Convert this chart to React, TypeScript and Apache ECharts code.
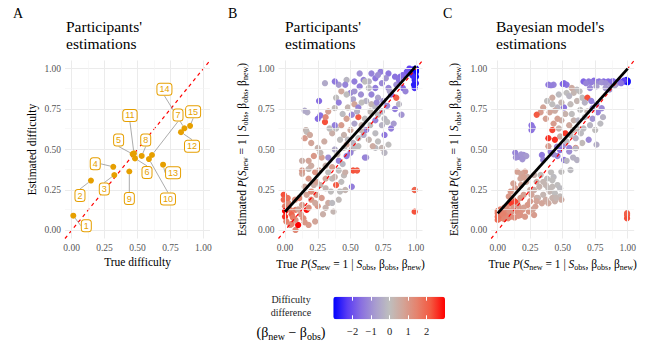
import React, { useEffect, useRef } from 'react';
import * as echarts from 'echarts';

// ---------- data ----------
const tickValues = [0, 0.25, 0.5, 0.75, 1];
const minorValues = [0.125, 0.375, 0.625, 0.875];
const legendTicks = [-2, -1, 0, 1, 2];
const identityLine = [[-0.05, -0.05], [1.05, 1.05]];

// Panel A
const itemLabels = ['1', '2', '3', '4', '5', '6', '7', '8', '9', '10', '11', '12', '13', '14', '15'];
const trueDifficulty = [0.013, 0.147, 0.324, 0.316, 0.463, 0.481, 0.61, 0.532, 0.438, 0.587, 0.473, 0.83, 0.694, 0.856, 0.899];
const estimatedDifficulty = [0.091, 0.308, 0.342, 0.393, 0.472, 0.445, 0.466, 0.46, 0.364, 0.441, 0.476, 0.607, 0.406, 0.631, 0.646];
const labelOffsets = [
  [13, 10], [-11, 15], [-10, 14], [-18, -3], [-14, -14], [12, 14], [26, -40], [4, -16],
  [0, 27], [19, 40], [-4, -38], [11, 14], [10, 8], [-20, -39], [3, -14],
];

// Panel B: [true P, estimated P, difficulty difference]
const participantPoints = [
  [1.0, 1.0, -3], [0.99, 0.99, -3], [0.98, 0.995, -2.9], [1.0, 0.98, -3], [0.995, 0.965, -2.8], [0.97, 0.99, -2.7],
  [1.0, 0.95, -2.9], [0.99, 0.93, -2.6], [1.0, 0.91, -2.5], [0.99, 0.88, -2.4], [0.96, 0.97, -2.4], [0.95, 1.0, -2.2],
  [0.985, 0.9, -2.7], [1.0, 0.99, -2.95], [0.975, 0.955, -2.5],
  [0.93, 0.98, -1.9], [0.9, 0.96, -1.7], [0.88, 0.95, -1.6], [0.84, 0.95, -1.5], [0.79, 0.97, -1.4], [0.73, 0.98, -1.3],
  [0.69, 0.94, -1.4], [0.64, 0.92, -0.3], [0.6, 0.93, -1.2], [0.57, 0.97, -1.0], [0.53, 0.92, -1.3], [0.47, 0.93, -0.2],
  [0.46, 0.9, -1.2], [0.41, 0.9, -0.8], [0.38, 0.92, -1.4], [0.305, 0.91, -0.5], [0.26, 0.8, -1.6], [0.43, 0.86, 0.6],
  [0.5, 0.85, -1.1], [0.53, 0.86, -0.9], [0.57, 0.89, -1.3], [0.61, 0.92, 0.0], [0.64, 0.88, -0.1], [0.66, 0.84, -1.2],
  [0.69, 0.88, -1.3], [0.74, 0.91, -1.1], [0.79, 0.88, -1.2], [0.81, 0.84, -1.4], [0.85, 0.9, -1.0], [0.9, 0.88, -1.6],
  [0.92, 0.86, -1.2], [0.87, 0.93, -1.5], [0.77, 0.94, -0.9], [0.71, 0.96, -1.0], [0.66, 0.97, -1.2],
  [0.39, 0.82, 0.0], [0.41, 0.79, -1.3], [0.38, 0.756, 0.1], [0.33, 0.735, 0.8], [0.305, 0.67, 2.3], [0.27, 0.71, -1.5],
  [0.25, 0.69, -1.6], [0.17, 0.73, -0.4], [0.16, 0.62, 0.3], [0.15, 0.74, -0.5], [0.165, 0.61, 0.1], [0.15, 0.57, 0.9],
  [0.19, 0.59, 0.6], [0.2, 0.54, 0.7], [0.47, 0.84, 0.0], [0.52, 0.81, -0.6], [0.53, 0.78, 0.7], [0.56, 0.76, -1.2],
  [0.56, 0.7, 2.2], [0.55, 0.735, -0.3], [0.51, 0.715, -1.1], [0.47, 0.69, 0.8], [0.43, 0.65, 0.9], [0.39, 0.63, 0.0],
  [0.38, 0.65, -1.3], [0.45, 0.59, 0.3], [0.42, 0.56, 0.0], [0.48, 0.56, -0.1], [0.47, 0.53, 0.7], [0.52, 0.54, -0.2],
  [0.56, 0.57, 0.0], [0.6, 0.59, -0.4], [0.62, 0.62, -1.2], [0.65, 0.65, 0.0], [0.69, 0.68, -1.2], [0.71, 0.715, -0.1],
  [0.74, 0.735, -0.3], [0.76, 0.69, -0.2], [0.78, 0.67, -0.1], [0.81, 0.63, -1.3], [0.83, 0.66, -0.8], [0.85, 0.82, 2.1],
  [0.87, 0.78, -0.2], [0.89, 0.715, -0.9], [0.62, 0.8, -0.3], [0.66, 0.78, 0.2], [0.71, 0.82, -0.6], [0.75, 0.8, -0.9],
  [0.69, 0.76, -0.2], [0.585, 0.79, 0.0], [0.65, 0.735, 0.1], [0.61, 0.69, 0.0], [0.585, 0.65, 0.3], [0.64, 0.56, 0.2],
  [0.69, 0.6, -0.1], [0.71, 0.55, 0.0], [0.74, 0.65, -0.3], [0.76, 0.59, -1.4], [0.79, 0.53, 0.0], [0.56, 0.52, 0.0],
  [0.51, 0.5, -0.2], [0.69, 0.51, -0.1], [0.74, 0.51, 0.2], [0.5, 0.62, 0.6], [0.48, 0.76, 0.2], [0.44, 0.72, -0.1],
  [0.58, 0.84, -1.0], [0.7, 0.79, -1.1], [0.78, 0.77, -1.1], [0.84, 0.75, -1.3], [0.8, 0.86, -0.6], [0.36, 0.6, 0.4],
  [0.31, 0.7, 1.3], [0.34, 0.63, 0.0], [0.62, 0.45, -0.8], [0.58, 0.62, 0.2], [0.53, 0.66, -0.6],
  [-0.01, 0.22, 2.3], [-0.01, 0.19, 2.0], [0.0, 0.15, 1.6], [0.0, 0.12, 3.0], [0.0, 0.085, 2.6], [0.01, 0.055, 1.5],
  [0.04, 0.034, 1.0], [0.08, 0.003, 1.3], [0.1, 0.034, 3.0], [0.08, 0.065, 1.1], [0.14, 0.075, 1.2], [0.165, 0.127, 2.9],
  [0.18, 0.14, 1.2], [0.13, 0.157, 0.8], [0.076, 0.19, 1.1], [0.11, 0.2, 1.4], [0.165, 0.22, 0.7], [0.2, 0.19, 1.0],
  [0.24, 0.22, 0.9], [0.2, 0.24, 1.2], [0.15, 0.27, 0.6], [0.22, 0.28, 0.4], [0.24, 0.3, 0.8], [0.18, 0.32, 1.0],
  [0.13, 0.35, 0.6], [0.13, 0.37, 0.9], [0.18, 0.38, 0.2], [0.23, 0.36, 1.1], [0.2, 0.4, 0.5], [0.18, 0.43, 0.7],
  [0.13, 0.43, 0.4], [0.22, 0.46, 1.0], [0.25, 0.51, 0.3], [0.28, 0.45, 0.8], [0.31, 0.4, 0.3], [0.33, 0.36, 0.0],
  [0.31, 0.32, 0.6], [0.36, 0.32, 0.1], [0.31, 0.26, 0.2], [0.28, 0.2, 0.9], [0.33, 0.17, 0.5], [0.31, 0.14, 0.3],
  [0.25, 0.15, 1.0], [0.29, 0.1, 0.4], [0.36, 0.17, -0.1], [0.41, 0.19, 0.1], [0.42, 0.24, 0.0], [0.46, 0.25, 0.2],
  [0.39, 0.28, 2.2], [0.43, 0.3, 0.0], [0.38, 0.33, 0.3], [0.45, 0.34, 0.1], [0.41, 0.37, 0.0], [0.46, 0.36, 0.4],
  [0.52, 0.37, 2.3], [0.55, 0.37, 2.2], [0.51, 0.27, -1.3], [0.61, 0.45, -1.2], [0.33, 0.45, -1.0], [0.41, 0.43, -1.2],
  [0.45, 0.51, 0.0], [0.47, 0.46, -1.3], [0.5, 0.48, -1.2], [0.53, 0.51, -0.1], [0.67, 0.52, 0.5], [0.76, 0.48, -0.2],
  [0.99, 0.25, 2.0], [0.99, 0.116, 2.3], [0.08, 0.127, 1.6], [0.04, 0.127, 1.4], [0.025, 0.17, 1.2], [0.23, 0.055, 0.7],
  [0.18, 0.034, 0.9], [0.37, 0.116, 0.2], [0.05, 0.1, 2.0], [0.06, 0.08, 1.6], [0.12, 0.1, 1.0], [0.1, 0.13, 0.7],
  [0.02, 0.2, 1.8], [0.27, 0.28, 0.3], [0.35, 0.24, 0.0], [0.44, 0.41, -0.2], [0.38, 0.5, -0.5], [0.3, 0.55, 0.5],
  [0.27, 0.48, 0.2], [0.4, 0.47, 0.3], [0.36, 0.39, 0.8], [0.26, 0.37, 0.7], [0.23, 0.17, 0.6], [0.15, 0.05, 1.0],
  [0.05, 0.04, 1.4],
];
const participantFit = [[0, 0.115], [1, 1.015]];

// Panel C: [true P, model-estimated P, difficulty difference]
const modelPoints = [
  [1.0, 0.925, -3], [0.99, 0.93, -2.8], [0.98, 0.92, -2.6], [1.0, 0.915, -2.9], [0.97, 0.925, -2.2],
  [0.93, 0.92, -1.9], [0.89, 0.92, -1.8], [0.85, 0.92, -1.6], [0.815, 0.92, -1.7], [0.78, 0.92, -1.5], [0.74, 0.925, -1.6],
  [0.7, 0.92, -1.4], [0.66, 0.92, -1.7], [0.68, 0.91, -1.2], [0.72, 0.915, -1.3], [0.76, 0.91, -1.1], [0.8, 0.915, -0.9],
  [0.83, 0.91, -1.0], [0.87, 0.9, -0.8], [0.91, 0.905, -1.2], [0.95, 0.91, -1.5], [0.71, 0.88, -1.1], [0.76, 0.89, -0.7],
  [0.83, 0.88, -0.8], [0.9, 0.895, -0.6], [0.51, 0.91, -1.6], [0.53, 0.9, -1.5], [0.5, 0.905, -1.7], [0.39, 0.9, -1.4],
  [0.43, 0.9, -1.2], [0.41, 0.895, -1.3],
  [0.61, 0.87, -0.1], [0.57, 0.88, 0.5], [0.585, 0.85, 0.2], [0.53, 0.85, 0.0], [0.47, 0.84, -0.1], [0.42, 0.82, 0.5],
  [0.38, 0.8, 0.0], [0.35, 0.76, 0.7], [0.33, 0.73, 0.9], [0.3, 0.715, 2.2], [0.42, 0.78, 0.0], [0.46, 0.76, -0.2],
  [0.51, 0.76, -1.4], [0.56, 0.78, 0.1], [0.61, 0.8, 0.2], [0.65, 0.82, 0.0], [0.69, 0.82, 2.3], [0.67, 0.79, -0.3],
  [0.635, 0.745, 0.0], [0.69, 0.735, 0.2], [0.73, 0.755, -1.0], [0.76, 0.78, -1.2], [0.8, 0.755, -1.1], [0.81, 0.7, -0.3],
  [0.79, 0.66, -0.1], [0.75, 0.62, 0.0], [0.71, 0.65, -0.2], [0.66, 0.63, -0.1], [0.61, 0.63, 0.0], [0.585, 0.68, 0.3],
  [0.55, 0.65, 0.6], [0.49, 0.68, 0.4], [0.46, 0.69, 0.8], [0.43, 0.66, 0.9], [0.47, 0.63, 0.3], [0.42, 0.62, 2.4],
  [0.52, 0.6, 2.5], [0.48, 0.58, 0.5], [0.56, 0.59, 0.0], [0.44, 0.56, 2.6], [0.53, 0.55, -0.1], [0.6, 0.57, -0.3],
  [0.65, 0.54, 0.1], [0.7, 0.56, -1.1], [0.39, 0.52, 0.9], [0.5, 0.52, -1.0], [0.55, 0.51, -1.2], [0.6, 0.51, 1.8],
  [0.26, 0.65, -1.5], [0.26, 0.62, -1.5], [0.27, 0.635, -1.4], [0.39, 0.57, 2.6], [0.57, 0.72, 0.0], [0.52, 0.72, 0.3],
  [0.44, 0.74, 0.5], [0.62, 0.68, -0.2], [0.67, 0.7, -0.1], [0.73, 0.69, -0.9], [0.77, 0.73, -1.3], [0.64, 0.6, -0.1],
  [0.58, 0.62, 0.2], [0.37, 0.69, 0.8], [0.4, 0.73, 0.7], [0.49, 0.79, 0.2], [0.55, 0.83, -0.2], [0.63, 0.86, 0.0],
  [0.72, 0.8, -1.3], [0.86, 0.87, -0.9], [0.88, 0.92, -1.6],
  [0.135, 0.48, -1.2], [0.16, 0.455, -1.1], [0.2, 0.466, -1.0], [0.18, 0.47, -0.9], [0.22, 0.46, -0.8], [0.34, 0.466, -1.4],
  [0.35, 0.435, -1.2], [0.405, 0.487, -1.3], [0.456, 0.517, -1.1], [0.48, 0.497, -1.5], [0.51, 0.435, -1.4], [0.55, 0.487, -1.0],
  [0.6, 0.507, -0.2], [0.61, 0.435, -0.3], [0.56, 0.373, -0.1], [0.49, 0.363, 0.0], [0.76, 0.53, -0.4],
  [0.15, 0.363, 0.8], [0.21, 0.363, 0.9], [0.23, 0.33, 0.4], [0.175, 0.32, 0.7], [0.28, 0.343, 0.3], [0.33, 0.343, 0.1],
  [0.38, 0.32, 0.0], [0.43, 0.33, -0.1], [0.46, 0.28, 0.0], [0.42, 0.27, 0.1], [0.37, 0.28, 0.2], [0.32, 0.27, 0.3],
  [0.4, 0.24, 0.2], [0.44, 0.23, 0.0], [0.48, 0.26, -0.1], [0.48, 0.21, 0.1], [0.42, 0.2, 0.3], [0.37, 0.19, 0.5],
  [0.3, 0.2, 0.6], [0.29, 0.147, 0.8], [0.34, 0.168, 0.7], [0.39, 0.168, 0.6], [0.49, 0.19, 0.5], [0.44, 0.18, 0.4],
  [0.25, 0.25, 0.5], [0.25, 0.18, 0.9], [0.2, 0.22, 0.8], [0.175, 0.2, 1.0], [0.135, 0.26, 0.9], [0.1, 0.24, 1.0],
  [0.085, 0.21, 1.0], [0.12, 0.19, 1.1], [0.15, 0.17, 1.0], [0.23, 0.157, 1.0], [0.19, 0.127, 1.1], [0.15, 0.116, 1.2],
  [0.11, 0.116, 1.0], [0.07, 0.096, 1.3], [0.033, 0.085, 1.5], [0.0, 0.085, 2.0], [0.0, 0.106, 1.7], [0.0, 0.065, 1.9],
  [0.02, 0.075, 1.6], [0.1, 0.167, 2.5], [0.135, 0.178, 2.4], [0.175, 0.095, 1.1], [0.21, 0.085, 1.0], [0.1, 0.085, 1.2],
  [0.06, 0.116, 1.4], [0.07, 0.147, 1.3], [0.24, 0.116, 1.0], [0.28, 0.095, 0.9], [0.995, 0.095, 2.2], [0.995, 0.075, 2.3],
  [0.995, 0.106, 2.1], [0.01, 0.09, 1.7], [0.04, 0.1, 1.5], [0.05, 0.07, 1.4], [0.08, 0.075, 1.3], [0.13, 0.08, 1.2],
  [0.16, 0.09, 1.1], [0.0, 0.12, 1.6], [0.02, 0.13, 1.5], [0.05, 0.14, 1.2], [0.09, 0.12, 1.1], [0.12, 0.14, 1.0],
  [0.16, 0.15, 0.9], [0.2, 0.14, 0.8], [0.27, 0.13, 0.7], [0.31, 0.2, 0.3], [0.35, 0.22, 0.2], [0.39, 0.26, 0.1],
  [0.42, 0.31, 0.0], [0.45, 0.2, 0.2], [0.3, 0.3, 0.3], [0.22, 0.3, 0.6], [0.18, 0.28, 0.8], [0.28, 0.25, 0.4],
  [0.35, 0.3, 0.2], [0.41, 0.36, 0.0], [0.3, 0.18, 0.7], [0.26, 0.22, 0.7], [0.12, 0.29, 0.8], [0.18, 0.35, 0.7],
  [0.2, 0.33, 0.8], [0.53, 0.43, -0.2], [0.46, 0.46, -1.2], [0.43, 0.47, -1.0], [0.58, 0.45, -0.3], [0.14, 0.45, -1.0],
  [0.19, 0.44, -0.9],
];
const modelFit = [[0, 0.105], [1, 1.0]];

const diffRange = [-3.05, 3.0];

// ---------- styles ----------
const SERIF = 'Liberation Serif';
const SANS = 'Liberation Sans';
const ORANGE = '#E69F00';
const palette = ['#0000FF', '#5a3cf4', '#8a70e0', '#a89ccf', '#BEBEBE', '#d3a497', '#e5826d', '#f45840', '#FF0000'];

const nameRich = {
  n: { fontFamily: SERIF, fontSize: 11.5, color: '#000', lineHeight: 16 },
  i: { fontFamily: SERIF, fontSize: 11.5, fontStyle: 'italic', color: '#000', lineHeight: 16 },
  s: { fontFamily: SERIF, fontSize: 8, color: '#000', lineHeight: 8, verticalAlign: 'bottom' },
};
const probExpr = '{i|P}{n|(}{i|S}{s|new}{n| = 1 | }{i|S}{s|obs}{n|, β}{s|obs}{n|, β}{s|new}{n|)}';

const fmt2 = (v: number) => Number(v).toFixed(2);
const tickLabelStyle = { customValues: tickValues, formatter: fmt2, color: '#555', fontFamily: SERIF, fontSize: 9.5, margin: 4 };

function panelXAxis(gridIndex: number, name: string) {
  return {
    type: 'value', gridIndex, min: -0.05, max: 1.05,
    axisLine: { show: false }, axisTick: { show: false }, splitLine: { show: false },
    axisLabel: tickLabelStyle,
    name, nameLocation: 'middle', nameGap: 17, nameMoveOverlap: false,
    nameTextStyle: { fontFamily: SERIF, fontSize: 11.5, color: '#000', rich: nameRich },
  };
}
function panelYAxis(gridIndex: number, name: string, gap: number) {
  return {
    type: 'value', gridIndex, min: -0.05, max: 1.05,
    axisLine: { show: false }, axisTick: { show: false }, splitLine: { show: false },
    axisLabel: tickLabelStyle,
    name, nameLocation: 'middle', nameGap: gap, nameMoveOverlap: false,
    nameTextStyle: { fontFamily: SERIF, fontSize: 11.5, color: '#000', rich: nameRich },
  };
}
function gridSeries(idx: number) {
  const major = { color: '#ebebeb', width: 1, type: 'solid' };
  const minor = { color: '#f3f3f3', width: 0.6, type: 'solid' };
  const data: any[] = [];
  tickValues.forEach((v) => { data.push({ xAxis: v, lineStyle: major }); data.push({ yAxis: v, lineStyle: major }); });
  minorValues.forEach((v) => { data.push({ xAxis: v, lineStyle: minor }); data.push({ yAxis: v, lineStyle: minor }); });
  return {
    type: 'line', xAxisIndex: idx, yAxisIndex: idx, data: [], z: 1, silent: true,
    markLine: { silent: true, symbol: ['none', 'none'], label: { show: false }, animation: false, data },
  };
}
function diagSeries(idx: number) {
  return {
    type: 'line', xAxisIndex: idx, yAxisIndex: idx, data: identityLine, symbol: 'none', z: 4, silent: true,
    lineStyle: { color: '#FF0000', width: 1.2, type: [3.5, 3.5] },
  };
}
function fitSeries(idx: number, data: number[][]) {
  return {
    type: 'line', xAxisIndex: idx, yAxisIndex: idx, data, symbol: 'none', z: 5, silent: true,
    lineStyle: { color: '#000', width: 2.8 },
  };
}

export default function App() {
  const ref = useRef<HTMLDivElement>(null);
  useEffect(() => {
    if (!ref.current) return;
    const chart = echarts.init(ref.current, undefined, { renderer: 'svg' });
    const gridTop = 60.5, gridH = 178;
    const titleStyle = { fontFamily: SERIF, fontSize: 15.5, lineHeight: 17, fontWeight: 'normal', color: '#000' };
    const letterStyle = { fontFamily: SERIF, fontSize: 14, fontWeight: 'normal', color: '#000' };
    const option: any = {
      animation: false,
      backgroundColor: '#fff',
      textStyle: { fontFamily: SERIF },
      title: [
        { text: 'A', left: 13, top: 6, padding: 0, textStyle: letterStyle },
        { text: 'B', left: 228, top: 6, padding: 0, textStyle: letterStyle },
        { text: 'C', left: 443, top: 6, padding: 0, textStyle: letterStyle },
        { text: "Participants'\nestimations", left: 66, top: 18, padding: 0, textStyle: titleStyle },
        { text: "Participants'\nestimations", left: 285, top: 18, padding: 0, textStyle: titleStyle },
        { text: "Bayesian model's\nestimations", left: 496, top: 18, padding: 0, textStyle: titleStyle },
      ],
      grid: [
        { left: 65, top: gridTop, width: 145, height: gridH, outerBoundsMode: 'none' },
        { left: 278.5, top: gridTop, width: 144, height: gridH, outerBoundsMode: 'none' },
        { left: 491.2, top: gridTop, width: 143, height: gridH, outerBoundsMode: 'none' },
        { left: 333.3, top: 296.7, width: 111.7, height: 22.6, outerBoundsMode: 'none' },
      ],
      xAxis: [
        panelXAxis(0, 'True difficulty'),
        panelXAxis(1, '{n|True }' + probExpr),
        panelXAxis(2, '{n|True }' + probExpr),
        {
          type: 'value', gridIndex: 3, min: diffRange[0], max: diffRange[1], z: 10,
          axisLine: { show: false }, splitLine: { show: false },
          axisTick: { show: true, customValues: legendTicks, inside: true, length: 4, lineStyle: { color: '#fff', width: 1 } },
          axisLabel: { customValues: legendTicks, formatter: (v: number) => (v < 0 ? '−' + Math.abs(v) : String(v)), color: '#222', fontFamily: SERIF, fontSize: 10.5, margin: 7 },
        },
        {
          type: 'value', gridIndex: 3, position: 'top', min: diffRange[0], max: diffRange[1], z: 10,
          axisLine: { show: false }, splitLine: { show: false }, axisLabel: { show: false },
          axisTick: { show: true, customValues: legendTicks, inside: true, length: 4, lineStyle: { color: '#fff', width: 1 } },
        },
      ],
      yAxis: [
        panelYAxis(0, 'Estimated difficulty', 27),
        panelYAxis(1, '{n|Estimated }' + probExpr, 29),
        panelYAxis(2, '{n|Estimated }' + probExpr, 29),
        { type: 'value', gridIndex: 3, show: false, min: 0, max: 1 },
      ],
      visualMap: [{
        type: 'continuous', min: diffRange[0], max: diffRange[1], dimension: 2, seriesIndex: [4, 8],
        orient: 'horizontal', left: 333.3, top: 296.7, itemWidth: 22.6, itemHeight: 111.7, padding: 0,
        calculable: false, realtime: false, text: null, showLabel: false, hoverLink: false,
        inRange: { color: palette },
      }],
      graphic: [
        { type: 'text', x: 291, y: 306, silent: true, style: { text: 'Difficulty\ndifference', font: '10px "Liberation Serif"', lineHeight: 13.5, align: 'center', verticalAlign: 'middle', fill: '#222' } },
        {
          type: 'text', x: 291, y: 332, silent: true,
          style: {
            text: '{b|(β}{s|new}{b| − β}{s|obs}{b|)}', align: 'center', verticalAlign: 'middle', font: '14px "Liberation Serif"',
            rich: {
              b: { fontFamily: SERIF, fontSize: 14, fill: '#000', lineHeight: 18 },
              s: { fontFamily: SERIF, fontSize: 10, fill: '#000', lineHeight: 10, verticalAlign: 'bottom' },
            },
          },
        },
      ],
      series: [
        gridSeries(0),
        diagSeries(0),
        {
          type: 'scatter', xAxisIndex: 0, yAxisIndex: 0, z: 6, symbolSize: 6,
          itemStyle: { color: ORANGE, opacity: 1 },
          data: trueDifficulty.map((x, i) => [x, estimatedDifficulty[i]]),
          label: {
            show: true, position: 'inside', formatter: (p: any) => itemLabels[p.dataIndex],
            color: ORANGE, fontFamily: SANS, fontSize: 9, backgroundColor: '#fff', borderColor: ORANGE, borderWidth: 1,
            borderRadius: 2.5, padding: [1.5, 2, 0.5, 2],
          },
          labelLayout: (p: any) => ({ dx: labelOffsets[p.dataIndex][0], dy: labelOffsets[p.dataIndex][1] }),
          labelLine: { show: true, lineStyle: { color: '#888', width: 0.7 } },
        },
        gridSeries(1),
        { type: 'scatter', xAxisIndex: 1, yAxisIndex: 1, z: 3, symbolSize: 6.3, data: participantPoints, itemStyle: { opacity: 1 } },
        diagSeries(1),
        fitSeries(1, participantFit),
        gridSeries(2),
        { type: 'scatter', xAxisIndex: 2, yAxisIndex: 2, z: 3, symbolSize: 6.3, data: modelPoints, itemStyle: { opacity: 1 } },
        diagSeries(2),
        fitSeries(2, modelFit),
      ],
    };
    chart.setOption(option);
    return () => chart.dispose();
  }, []);
  return <div ref={ref} style={{ width: 655, height: 345, position: 'absolute', left: 0, top: 0 }} />;
}
